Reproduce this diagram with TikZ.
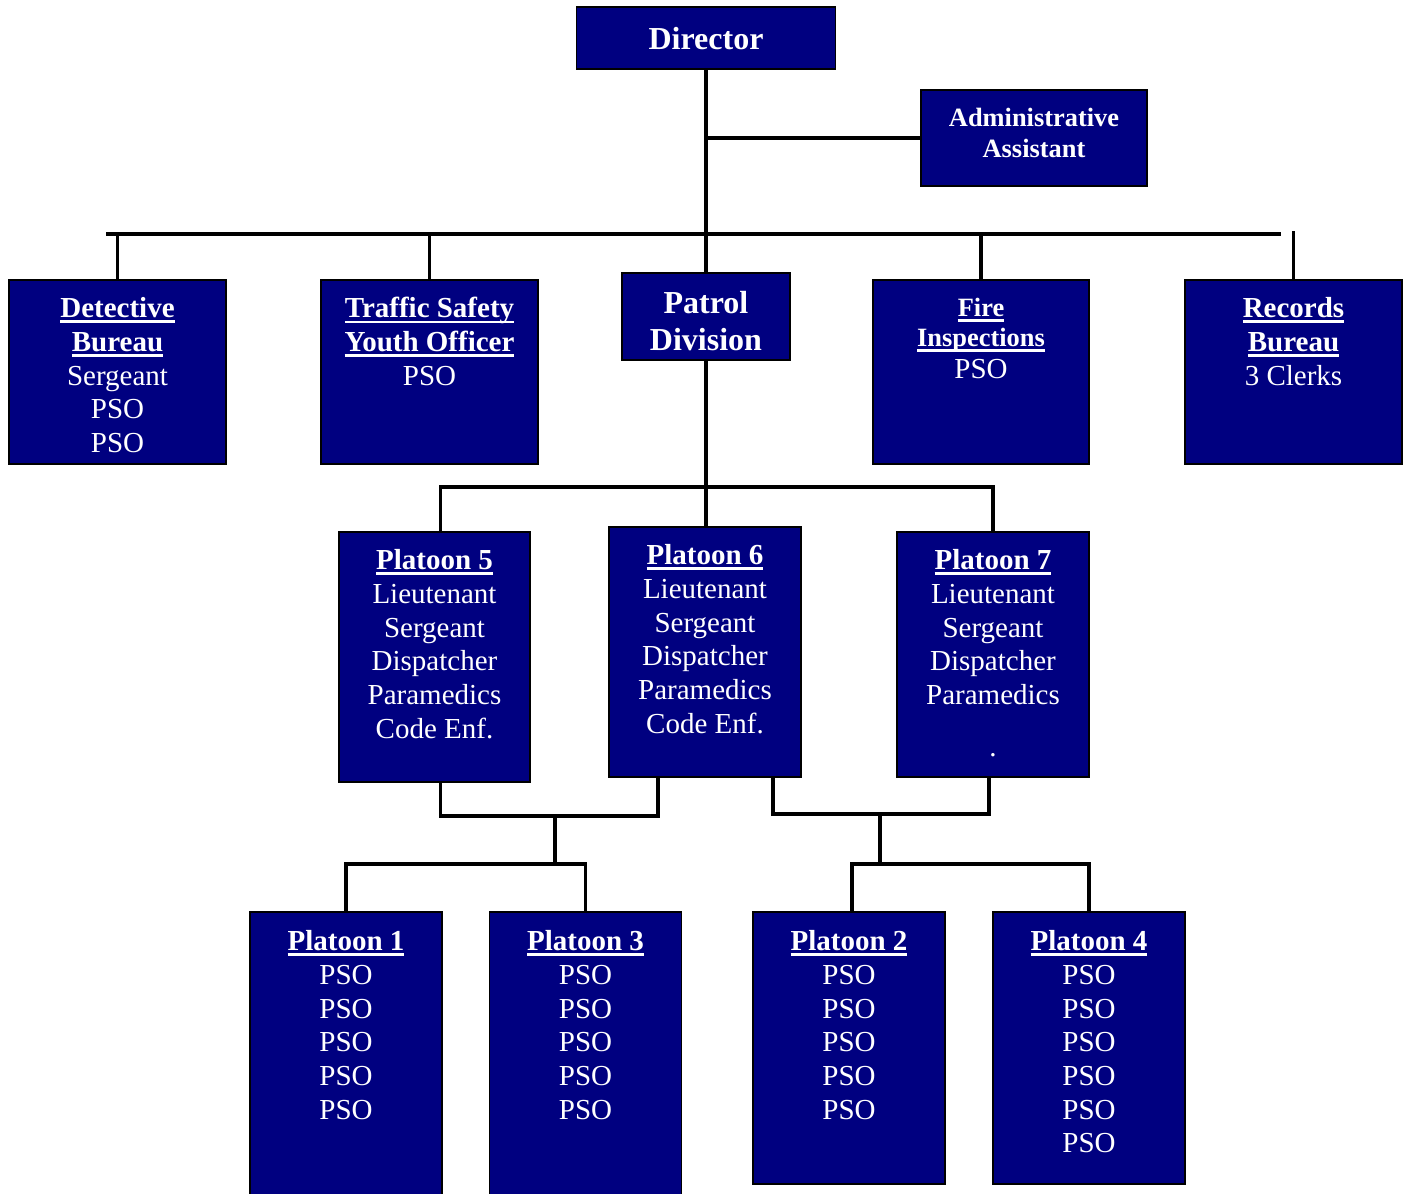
\documentclass[tikz,border=0pt]{standalone}
\usepackage{fontspec}
\setmainfont{Liberation Serif}
\usepackage{tikz}
\usetikzlibrary{positioning}
\definecolor{navybox}{RGB}{0,0,128}
\newsavebox\ulhdbox
\newcommand\ulhd[1]{\sbox\ulhdbox{\bfseries #1}\rlap{\rule[-2.7pt]{\wd\ulhdbox}{1.4pt}}\usebox\ulhdbox}

\begin{document}
\begin{tikzpicture}[x=0.5pt,y=-0.5pt]
\tikzstyle{orgbox}=[draw=black,line width=0.9pt,fill=navybox,inner sep=0pt];
\tikzstyle{orgtxt}=[text=white,align=center,inner sep=0pt,font=\fontsize{14.5}{16.85}\selectfont];
\tikzstyle{orgline}=[line width=1.8pt,line join=miter];
\useasboundingbox (0,0) rectangle (1404,1194);

\node[orgbox,minimum width=129.5pt,minimum height=31pt] (dir) at (706,38) {};
\node[orgtxt,font=\bfseries\fontsize{16}{19}\selectfont] (dir-t) [below=10.5pt of dir.north] {Director};
\node[orgbox,minimum width=113pt,minimum height=48pt] (adm) at (1034,138) {};
\node[orgtxt,font=\bfseries\fontsize{13.2}{15.3}\selectfont] (adm-t) [below=9.5pt of adm.north] {Administrative\\Assistant};

\node[orgbox,minimum width=108.5pt,minimum height=92pt] (det) at (117.5,372) {};
\node[orgtxt] (det-t) [below=9pt of det.north] {\ulhd{Detective}\\\ulhd{Bureau}\\Sergeant\\PSO\\PSO};
\node[orgbox,minimum width=108.5pt,minimum height=92pt] (trf) at (429.5,372) {};
\node[orgtxt] (trf-t) [below=9pt of trf.north] {\ulhd{Traffic Safety}\\\ulhd{Youth Officer}\\PSO};
\node[orgbox,minimum width=84pt,minimum height=43.5pt] (pat) at (706,316.5) {};
\node[orgtxt,font=\bfseries\fontsize{16}{18.4}\selectfont] (pat-t) [below=9.5pt of pat.north] {Patrol\\Division};
\node[orgbox,minimum width=108pt,minimum height=92pt] (fir) at (981,372) {};
\node[orgtxt,font=\fontsize{13.2}{14.8}\selectfont] (fir-t) [below=9.5pt of fir.north] {\ulhd{Fire}\\\ulhd{Inspections}\\[1pt]{\fontsize{14.5}{16.5}\selectfont PSO}};
\node[orgbox,minimum width=108.5pt,minimum height=92pt] (rec) at (1293.5,372) {};
\node[orgtxt] (rec-t) [below=9pt of rec.north] {\ulhd{Records}\\\ulhd{Bureau}\\3 Clerks};

\node[orgbox,minimum width=95.5pt,minimum height=125pt] (p5) at (434.5,657) {};
\node[orgtxt] (p5-t) [below=9pt of p5.north] {\ulhd{Platoon 5}\\Lieutenant\\Sergeant\\Dispatcher\\Paramedics\\Code Enf.};
\node[orgbox,minimum width=96pt,minimum height=125pt] (p6) at (705,652) {};
\node[orgtxt] (p6-t) [below=9pt of p6.north] {\ulhd{Platoon 6}\\Lieutenant\\Sergeant\\Dispatcher\\Paramedics\\Code Enf.};
\node[orgbox,minimum width=96pt,minimum height=122.5pt] (p7) at (993,654.5) {};
\node[orgtxt] (p7-t) [below=9pt of p7.north] {\ulhd{Platoon 7}\\Lieutenant\\Sergeant\\Dispatcher\\Paramedics\\[9pt].};

\node[orgbox,minimum width=96pt,minimum height=144pt] (p1) at (346,1056) {};
\node[orgtxt] (p1-t) [below=9.5pt of p1.north] {\ulhd{Platoon 1}\\PSO\\PSO\\PSO\\PSO\\PSO};
\node[orgbox,minimum width=96pt,minimum height=144pt] (p3) at (585.5,1056) {};
\node[orgtxt] (p3-t) [below=9.5pt of p3.north] {\ulhd{Platoon 3}\\PSO\\PSO\\PSO\\PSO\\PSO};
\node[orgbox,minimum width=96pt,minimum height=136pt] (p2) at (849,1048) {};
\node[orgtxt] (p2-t) [below=9.5pt of p2.north] {\ulhd{Platoon 2}\\PSO\\PSO\\PSO\\PSO\\PSO};
\node[orgbox,minimum width=96pt,minimum height=136pt] (p4) at (1089,1048) {};
\node[orgtxt] (p4-t) [below=9.5pt of p4.north] {\ulhd{Platoon 4}\\PSO\\PSO\\PSO\\PSO\\PSO\\PSO};

\coordinate (barL) at (106,234);
\coordinate (barR) at (1281,234);
\coordinate (midbar) at (706,487);
\coordinate (jl) at (555,816);
\coordinate (jl2) at (555,864);
\coordinate (jr) at (880,814);
\coordinate (jr2) at (880,864);

\draw[orgline] (dir.south) -- (dir.south |- pat.north);
\draw[orgline] (dir.south |- adm.west) -- (adm.west);
\draw[orgline] (barL) -- (barR);
\foreach \b in {det,trf,fir}
  \draw[orgline] (\b.north) -- (\b.north |- barL);
\draw[orgline] (rec.north) -- ++(0,-48);
\draw[orgline] (pat.south) -- (pat.south |- p6.north);
\draw[orgline] ([xshift=3pt]p5.north) |- (midbar) -| (p7.north);
\draw[orgline] ([xshift=3pt]p5.south) |- (jl) -| ([xshift=-23.5pt]p6.south);
\draw[orgline] (jl) -- (jl2);
\draw[orgline] (p1.north) |- (jl2) -| (p3.north);
\draw[orgline] ([xshift=34pt]p6.south) |- (jr) -| ([xshift=-2pt]p7.south);
\draw[orgline] (jr) -- (jr2);
\draw[orgline] ([xshift=1.5pt]p2.north) |- (jr2) -| (p4.north);
\end{tikzpicture}
\end{document}
